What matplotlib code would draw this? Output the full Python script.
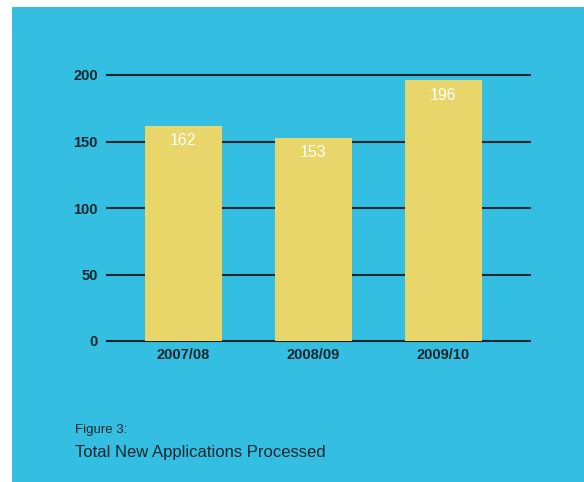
import matplotlib.pyplot as plt
from matplotlib.patches import Rectangle

plt.switch_backend("Agg")

# data
years = ["2007/08", "2008/09", "2009/10"]
applications = [162, 153, 196]
y_ticks = [0, 50, 100, 150, 200]

BG = "#33bee2"
BAR = "#e9d66b"
LINE = "#15262c"
FONT = ["Liberation Sans Narrow", "Liberation Sans", "DejaVu Sans"]

plt.rcParams["font.family"] = FONT

W, H = 584, 482
fig = plt.figure(figsize=(W / 100, H / 100), dpi=100)
fig.patch.set_facecolor(BG)
# white border on the left and top
fig.patches.append(Rectangle((0, 0), 12 / W, 1, transform=fig.transFigure,
                             facecolor="white", edgecolor="none", zorder=-5))
fig.patches.append(Rectangle((0, 1 - 7 / H), 1, 7 / H, transform=fig.transFigure,
                             facecolor="white", edgecolor="none", zorder=-5))

ax = fig.add_axes([107 / W, 1 - 341 / H, (530 - 107) / W, 266 / H])
ax.set_facecolor("none")

x = list(range(len(years)))
bars = ax.bar(x, applications, width=0.59, color=BAR, zorder=2)
for rect, v in zip(bars, applications):
    ax.text(rect.get_x() + rect.get_width() / 2, v - 5.5, str(v),
            ha="center", va="top", color="white", fontsize=11.5, zorder=3)

for t in y_ticks:
    ax.axhline(t, color=LINE, lw=1.5, zorder=1, clip_on=False)

ax.set_xlim(-0.588, 2.665)
ax.set_ylim(0, 200)
ax.set_yticks(y_ticks)
ax.set_xticks(x)
ax.set_xticklabels(years)
ax.tick_params(length=0, labelsize=10.5, labelcolor=LINE)
ax.tick_params(axis="y", pad=6.5)
ax.tick_params(axis="x", pad=5)
for lab in ax.get_xticklabels() + ax.get_yticklabels():
    lab.set_fontweight("bold")
for s in ax.spines.values():
    s.set_visible(False)

fig.text(75 / W, 1 - 430 / H, "Figure 3:", fontsize=9.5, color=LINE,
         ha="left", va="center")
fig.text(75 / W, 1 - 453 / H, "Total New Applications Processed", fontsize=12,
         color=LINE, ha="left", va="center")

fig.savefig("out.png", dpi=100, facecolor=BG)
